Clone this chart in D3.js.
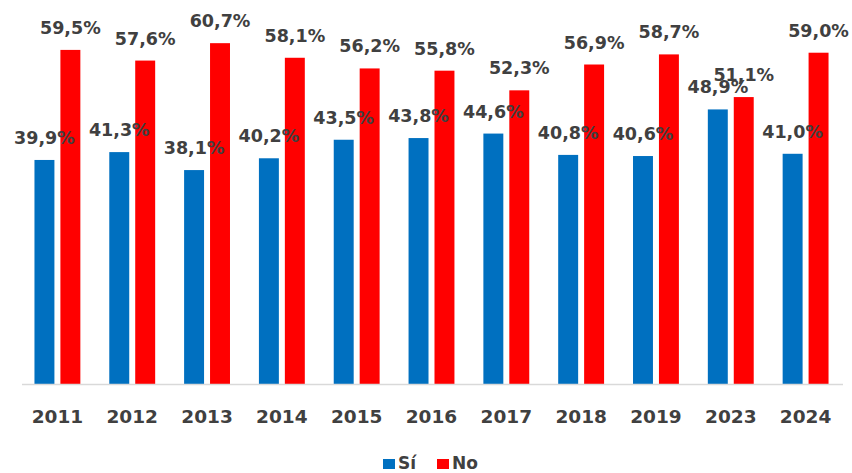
<!DOCTYPE html>
<html>
<head>
<meta charset="utf-8">
<script src="https://cdn.jsdelivr.net/npm/d3@7"></script>
<style>
html,body{margin:0;padding:0;background:#fff;}
svg{display:block;font-family:"DejaVu Sans",sans-serif;}
</style>
</head>
<body>
<svg id="chart" width="852" height="473"></svg>
<script>
const years = ["2011","2012","2013","2014","2015","2016","2017","2018","2019","2023","2024"];
const si = [39.9,41.3,38.1,40.2,43.5,43.8,44.6,40.8,40.6,48.9,41.0];
const no = [59.5,57.6,60.7,58.1,56.2,55.8,52.3,56.9,58.7,51.1,59.0];
const seriesNames = ["Sí","No"];
const colors = ["#0070C0","#FF0000"];

const svg = d3.select("#chart");
const baseY = 384;
const x = d3.scaleBand().domain(years).range([20,843]).paddingInner(29/75).paddingOuter(29/150);
const xs = d3.scaleBand().domain(seriesNames).range([0, x.bandwidth()]).paddingInner(6/26);
const y = d3.scaleLinear().domain([0,70]).range([baseY, baseY - 5.615*70]);

const data = years.map((yr,i)=>({year:yr, vals:[{s:"Sí",v:si[i]},{s:"No",v:no[i]}]}));

const g = svg.append("g");
const groups = g.selectAll("g.grp").data(data).join("g")
  .attr("transform", d=>`translate(${x(d.year)},0)`);

groups.selectAll("rect").data(d=>d.vals).join("rect")
  .attr("x", d=>xs(d.s))
  .attr("y", d=>y(d.v))
  .attr("width", xs.bandwidth())
  .attr("height", d=>baseY - y(d.v))
  .attr("fill", (d,i)=>colors[i]);

// axis line
svg.append("line").attr("x1",22).attr("x2",843).attr("y1",baseY+0.5).attr("y2",baseY+0.5)
  .attr("stroke","#d9d9d9").attr("stroke-width",1.5);

// labels
groups.selectAll("text.lbl").data(d=>d.vals).join("text")
  .attr("class","lbl")
  .attr("x", d=>xs(d.s)+xs.bandwidth()/2)
  .attr("y", d=>y(d.v)-16)
  .attr("text-anchor","middle")
  .attr("font-size",17.5)
  .attr("font-weight","bold")
  .attr("fill","#404040")
  .text(d=>d.v.toFixed(1).replace(".",",")+"%");

// x axis
const xAxis = d3.axisBottom(x).tickSize(0).tickPadding(0);
const ax = svg.append("g").attr("transform",`translate(0,${baseY})`).call(xAxis);
ax.select(".domain").remove();
ax.selectAll("text").attr("font-size",18.5).attr("font-weight","bold").attr("fill","#404040")
  .attr("font-family","'DejaVu Sans',sans-serif").attr("dy",null).attr("y",39);

// legend
const leg = svg.append("g").attr("transform","translate(383,0)");
const legItems = [{n:"Sí",c:colors[0],x:0},{n:"No",c:colors[1],x:54}];
legItems.forEach(it=>{
  leg.append("rect").attr("x",it.x).attr("y",459).attr("width",12).attr("height",10).attr("fill",it.c);
  leg.append("text").attr("x",it.x+15).attr("y",469).attr("font-size",17).attr("font-weight","bold")
    .attr("fill","#404040").text(it.n);
});
</script>
</body>
</html>
